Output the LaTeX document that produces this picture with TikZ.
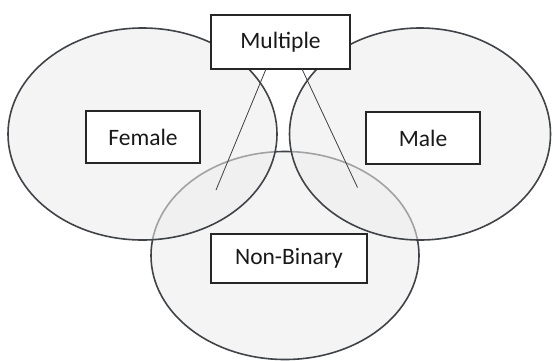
\documentclass[tikz,border=0pt]{standalone}
\usepackage{fontspec}
\setmainfont{Carlito}
\begin{document}
\begin{tikzpicture}[x=1pt,y=-1pt,
  setell/.style={draw=edgegray,line width=1.6pt,fill=black!7,fill opacity=0.56,draw opacity=1},
  labelbox/.style={draw=black!85,line width=1.4pt,fill=white,inner sep=0pt,
     font=\fontsize{23.5}{28}\selectfont,text=black!90},
  link/.style={draw=black!75,line width=0.8pt}]
\definecolor{edgegray}{HTML}{404448}
\useasboundingbox (0,0) rectangle (553,360);
\fill[white] (0,0) rectangle (553,360);
% sets
\path[setell] (285,255.5) ellipse [x radius=134, y radius=104];
\path[setell] (142.5,134) ellipse [x radius=134.5, y radius=106];
\path[setell] (420,134) ellipse [x radius=130.5, y radius=106];
% label boxes
\node[labelbox,minimum width=139pt,minimum height=54pt] (mult) at (280.5,42) {Multiple};
\node[labelbox,minimum width=114pt,minimum height=52pt] (fem) at (143,137) {Female};
\node[labelbox,minimum width=114pt,minimum height=52pt] (male) at (423,138) {Male};
\node[labelbox,minimum width=156pt,minimum height=49pt] (nb) at (289,258.5) {Non-Binary};
% connectors
\coordinate (m1) at (266,69);
\coordinate (m2) at (302,69);
\coordinate (e1) at (216,190);
\coordinate (e2) at (357.5,187.5);
\draw[link] (m1) -- (e1);
\draw[link] (m2) -- (e2);
\end{tikzpicture}
\end{document}
